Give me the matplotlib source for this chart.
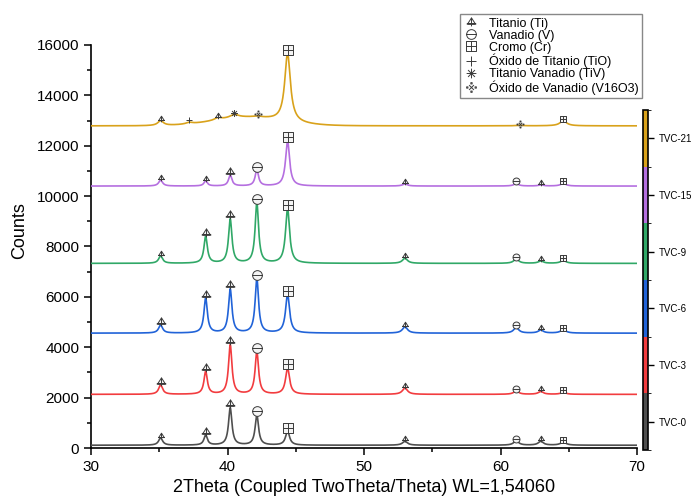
import numpy as np
import matplotlib
matplotlib.use('Agg')
import matplotlib.pyplot as plt
from matplotlib.path import Path
from matplotlib.lines import Line2D
from matplotlib.colors import ListedColormap, BoundaryNorm
from matplotlib.cm import ScalarMappable

plt.rcParams['font.family'] = ['Liberation Sans', 'DejaVu Sans']

# muestras y colores
samples = ['TVC-0', 'TVC-3', 'TVC-6', 'TVC-9', 'TVC-15', 'TVC-21']
colors = ['#4f4f4f', '#f23c3f', '#2163d8', '#30a867', '#b56fe0', '#d9a21b']
baselines = [110, 2130, 4560, 7330, 10400, 12790]

# picos comunes (2theta), fase y ancho
peak_pos = [35.1, 38.4, 40.2, 42.15, 44.4, 53.0, 61.15, 62.95, 64.6]
peak_phase = ['Ti', 'Ti', 'Ti', 'V', 'Cr', 'Ti', 'V', 'Ti', 'Cr']
peak_fwhm = [0.35, 0.3, 0.3, 0.3, 0.35, 0.45, 0.45, 0.45, 0.5]

# alturas sobre la linea base
h_tvc0 = [290, 400, 1480, 1200, 560, 150, 170, 150, 120]
h_tvc3 = [370, 900, 1960, 1690, 1045, 250, 130, 110, 70]
h_tvc6 = [320, 1380, 1740, 2170, 1540, 250, 220, 120, 130]
h_tvc9 = [290, 1060, 1750, 2400, 2180, 200, 170, 90, 110]
h_tvc15 = [230, 200, 430, 630, 1800, 80, 90, 40, 100]
heights = [h_tvc0, h_tvc3, h_tvc6, h_tvc9, h_tvc15]

# TVC-21 tiene otras fases
tvc21_pos = [35.1, 37.2, 39.3, 40.5, 42.2, 44.4, 61.4, 64.6]
tvc21_phase = ['Ti', 'TiO', 'Ti', 'TiV', 'V16O3', 'Cr', 'V16O3', 'Cr']
tvc21_h = [190, 60, 90, 130, 40, 2700, 20, 200]
tvc21_fwhm = [0.5, 0.6, 0.6, 0.8, 0.6, 0.5, 0.6, 0.6]
tvc21_hump = [41.5, 330, 2.5]   # centro, altura, sigma

phase_labels = ['Titanio (Ti)', 'Vanadio (V)', 'Cromo (Cr)', 'Óxido de Titanio (TiO)',
                'Titanio Vanadio (TiV)', 'Óxido de Vanadio (V16O3)']
phase_keys = ['Ti', 'V', 'Cr', 'TiO', 'TiV', 'V16O3']


def lines_path(segs):
    verts, codes = [], []
    for a, b in segs:
        verts += [a, b]
        codes += [Path.MOVETO, Path.LINETO]
    return Path(verts, codes)


def poly_path(pts):
    return Path(pts + [pts[0]], [Path.MOVETO] + [Path.LINETO] * (len(pts) - 1) + [Path.CLOSEPOLY])


ti_mk = Path.make_compound_path(
    poly_path([(-0.8, -0.3), (0, 0.95), (0.8, -0.3)]),
    lines_path([((-1, -0.3), (1, -0.3)), ((0, 0.95), (0, -0.8))]))
v_mk = Path.make_compound_path(Path.unit_circle(), lines_path([((-1, 0), (1, 0))]))
cr_mk = Path.make_compound_path(
    poly_path([(-1, -1), (1, -1), (1, 1), (-1, 1)]),
    lines_path([((-1, 0), (1, 0)), ((0, -1), (0, 1))]))
tio_mk = lines_path([((-1, 0), (1, 0)), ((0, -1), (0, 1))])
ang = np.deg2rad([0, 45, 90, 135])
tiv_mk = lines_path([((np.cos(a), np.sin(a)), (-np.cos(a), -np.sin(a))) for a in ang])
dots = [poly_path([(x - .15, y - .15), (x + .15, y - .15), (x + .15, y + .15), (x - .15, y + .15)])
        for x, y in [(0, 0.95), (0, -0.95), (0.95, 0), (-0.95, 0)]]
v16_mk = Path.make_compound_path(lines_path([((-.55, -.55), (.55, .55)), ((-.55, .55), (.55, -.55))]), *dots)
markers = {'Ti': ti_mk, 'V': v_mk, 'Cr': cr_mk, 'TiO': tio_mk, 'TiV': tiv_mk, 'V16O3': v16_mk}

x = np.linspace(30, 70, 4001)


def lorentz(c, h, w):
    return h / (1 + ((x - c) / (w / 2)) ** 2)


fig = plt.figure(figsize=(6.96, 4.98), dpi=100)
ax = fig.add_axes([91 / 696, 1 - 448 / 498, 546 / 696, 403 / 498])

mk_color = '#3a3a3a'


def put_marker(px, py, key, big):
    ax.plot([px], [py], marker=markers[key], ms=7 if big else 5, mfc='#f4f4f4',
            mec=mk_color, mew=0.7, ls='none', zorder=5)


for i in range(5):
    y = np.full_like(x, baselines[i], dtype=float)
    for c, h, w in zip(peak_pos, heights[i], peak_fwhm):
        y += lorentz(c, h, w)
    ax.plot(x, y, color=colors[i], lw=1.2, zorder=3)
    for c, h, ph in zip(peak_pos, heights[i], peak_phase):
        top = np.interp(c, x, y)
        put_marker(c, top + (130 if h >= 300 else 90), ph, h >= 300)

# TVC-21
y = baselines[5] + tvc21_hump[1] * np.exp(-(x - tvc21_hump[0]) ** 2 / (2 * tvc21_hump[2] ** 2))
for c, h, w in zip(tvc21_pos, tvc21_h, tvc21_fwhm):
    y = y + lorentz(c, h, w)
ax.plot(x, y, color=colors[5], lw=1.2, zorder=3)
for c, h, ph in zip(tvc21_pos, tvc21_h, tvc21_phase):
    top = np.interp(c, x, y)
    put_marker(c, top + (130 if h >= 300 else 70), ph, h >= 300)

ax.set_xlim(30, 70)
ax.set_ylim(0, 16000)
ax.set_xticks([30, 40, 50, 60, 70])
ax.set_xticks([35, 45, 55, 65], minor=True)
ax.set_yticks(np.arange(0, 16001, 2000))
ax.set_yticks(np.arange(1000, 16000, 2000), minor=True)
ax.tick_params(which='major', direction='out', length=5, width=1.1, labelsize=11)
ax.tick_params(which='minor', direction='out', length=3, width=1.1)
for s in ['top', 'right']:
    ax.spines[s].set_visible(False)
for s in ['left', 'bottom']:
    ax.spines[s].set_linewidth(1.2)
ax.set_xlabel('2Theta (Coupled TwoTheta/Theta) WL=1,54060', fontsize=13, labelpad=4)
ax.set_ylabel('Counts', fontsize=13)
ax.yaxis.set_label_coords(-0.115, 0.54)

# leyenda de fases
handles = [Line2D([], [], marker=markers[k], ls='none', ms=7, mfc='white', mec=mk_color, mew=0.7)
           for k in phase_keys]
fig.legend(handles, phase_labels, loc='upper left', bbox_to_anchor=(460 / 696, 1 - 14 / 498),
           fontsize=9, frameon=True, fancybox=False, edgecolor='#888888', framealpha=1,
           labelspacing=0.0, handlelength=1.1, handletextpad=0.9, borderpad=0.3,
           borderaxespad=0)

# barra de muestras
cax = fig.add_axes([643 / 696, 1 - 450 / 498, 5 / 696, 340 / 498])
cmap = ListedColormap(colors)
norm = BoundaryNorm(np.arange(7), 6)
cb = fig.colorbar(ScalarMappable(norm=norm, cmap=cmap), cax=cax, ticks=np.arange(6) + 0.5)
cb.ax.set_yticklabels(samples)
cb.ax.tick_params(labelsize=7, length=4, width=1)
cb.outline.set_linewidth(1.2)

fig.savefig('out.png', dpi=100)
